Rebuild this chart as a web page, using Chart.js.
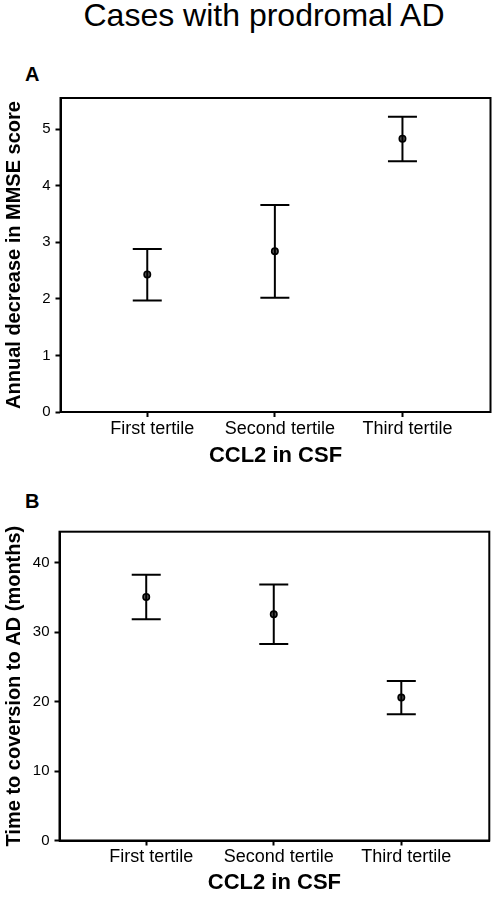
<!DOCTYPE html>
<html>
<head>
<meta charset="utf-8">
<script src="https://cdn.jsdelivr.net/npm/chart.js@4/dist/chart.umd.min.js"></script>
<style>
  html, body { margin:0; padding:0; background:#fff; }
  body { width:498px; height:897px; position:relative; overflow:hidden; font-family:"Liberation Sans", Arial, sans-serif; color:#000; }
  .title { position:absolute; left:0; top:0; width:528px; text-align:center; font-size:32px; line-height:31px; }
  .letter { position:absolute; left:25px; font-weight:bold; font-size:20px; line-height:20px; }
  .box { position:absolute; left:0; width:498px; height:382px; }
</style>
</head>
<body>
<div class="title">Cases with prodromal AD</div>
<div class="letter" style="top:64px">A</div>
<div class="letter" style="top:491px">B</div>
<div class="box" style="top:88px"><canvas id="chartA"></canvas></div>
<div class="box" style="top:515px"><canvas id="chartB"></canvas></div>
<script>
const categories = ['First tertile', 'Second tertile', 'Third tertile'];
const xTitle = 'CCL2 in CSF';

const meanA = [2.43, 2.84, 4.83];
const lowA  = [1.97, 2.02, 4.43];
const highA = [2.88, 3.66, 5.22];
const yTitleA = 'Annual decrease in MMSE score';

const meanB = [35.1, 32.6, 20.6];
const lowB  = [31.9, 28.3, 18.2];
const highB = [38.3, 36.9, 23.0];
const yTitleB = 'Time to coversion to AD (months)';

const FONT = '"Liberation Sans", Arial, sans-serif';

const boxPlugin = {
  id: 'boxPlugin',
  afterDraw(chart) {
    const {ctx, chartArea: a} = chart;
    ctx.save();
    ctx.strokeStyle = '#000';
    ctx.lineWidth = 2;
    ctx.strokeRect(a.left, a.top, a.right - a.left, a.bottom - a.top);
    ctx.restore();
  }
};

function zeroPad(s) {
  s.paddingTop = 0; s.paddingBottom = 0; s.paddingLeft = 0; s.paddingRight = 0;
}

function makeChart(id, mean, low, high, yMax, yStep, yTitle, padTop, yWidth, padRight, xHeight) {
  const errData = [];
  mean.forEach((m, i) => {
    errData.push({x: i, y: low[i]}, {x: i, y: high[i]}, {x: i, y: null});
  });
  return new Chart(document.getElementById(id), {
    type: 'scatter',
    data: {
      datasets: [
        { type: 'line', data: errData, borderColor: '#000', borderWidth: 2, pointRadius: 0, spanGaps: false, fill: false },
        { data: high.map((v, i) => ({x: i, y: v})), pointStyle: 'line', pointRadius: 14.5, borderColor: '#000', pointBorderWidth: 2 },
        { data: low.map((v, i) => ({x: i, y: v})), pointStyle: 'line', pointRadius: 14.5, borderColor: '#000', pointBorderWidth: 2 },
        { data: mean.map((v, i) => ({x: i, y: v})), pointRadius: 3.2, pointBackgroundColor: '#555', pointBorderColor: '#000', pointBorderWidth: 1.6 }
      ]
    },
    options: {
      responsive: true,
      maintainAspectRatio: false,
      animation: false,
      events: [],
      layout: { autoPadding: false, padding: { top: padTop, right: padRight, left: 0, bottom: 0 } },
      plugins: { legend: { display: false }, tooltip: { enabled: false } },
      scales: {
        x: {
          type: 'linear', min: -0.68, max: 2.69, offset: false,
          grid: { display: true, drawOnChartArea: false, offset: false, tickLength: 5, tickWidth: 2, tickColor: '#000' },
          border: { display: true, color: '#000', width: 2 },
          ticks: {
            stepSize: 1, includeBounds: false, padding: 1, labelOffset: 5, color: '#000', maxRotation: 0,
            font: { family: FONT, size: 18 },
            callback: v => (Number.isInteger(v) && categories[v] !== undefined) ? categories[v] : ''
          },
          title: { display: true, text: xTitle, color: '#000', font: { family: FONT, size: 22, weight: 'bold' }, padding: { top: 0, bottom: 1 } },
          afterFit: s => { s.height = xHeight; zeroPad(s); }
        },
        y: {
          type: 'linear', min: 0, max: yMax,
          grid: { display: true, drawOnChartArea: false, tickLength: 5, tickWidth: 2, tickColor: '#000' },
          border: { display: true, color: '#000', width: 2 },
          ticks: { stepSize: yStep, includeBounds: false, padding: 5, color: '#000', font: { family: FONT, size: 15 } },
          title: { display: true, text: yTitle, color: '#000', font: { family: FONT, size: 20, weight: 'bold' }, padding: { top: 2, bottom: 0 } },
          afterFit: s => { s.width = yWidth; zeroPad(s); }
        }
      }
    },
    plugins: [boxPlugin]
  });
}

makeChart('chartA', meanA, lowA, highA, 5.55, 1, yTitleA, 10, 60.5, 7.5, 58);
makeChart('chartB', meanB, lowB, highB, 44.5, 10, yTitleB, 16.7, 59.5, 8.7, 56.5);
</script>
</body>
</html>
